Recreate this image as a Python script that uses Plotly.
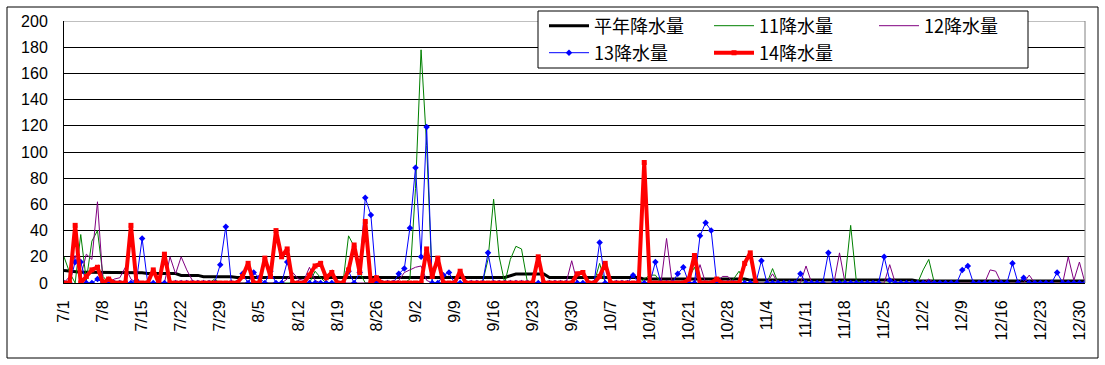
import pandas as pd
import plotly.graph_objects as go

# ---------------- data ----------------
dates = [f"{d.month}/{d.day}" for d in pd.date_range("2014-07-01", "2014-12-31")]

tick_labels = ["7/1", "7/8", "7/15", "7/22", "7/29", "8/5", "8/12", "8/19", "8/26",
               "9/2", "9/9", "9/16", "9/23", "9/30", "10/7", "10/14", "10/21", "10/28",
               "11/4", "11/11", "11/18", "11/25", "12/2", "12/9", "12/16", "12/23", "12/30"]

# 平年降水量 (normal)
normal = [
    9.5, 9.0, 8.6, 8.2, 8.2, 8.2, 8.0, 7.8, 7.8, 7.8, 7.8, 7.8, 7.8, 7.8, 7.8, 7.2,
    7.2, 7.2, 7.2, 7.2, 7.2, 5.8, 5.8, 5.8, 5.8, 4.8, 4.8, 4.8, 4.8, 4.8, 4.8,
    4.2, 4.2, 4.2, 4.2, 4.2, 4.2, 4.2, 4.2, 4.2, 4.2, 4.2, 4.2, 4.2, 4.2, 4.2,
    4.0, 4.0, 4.0, 4.0, 4.0, 4.0, 4.0, 4.0, 4.0, 4.0, 4.0, 4.0, 4.0, 4.0, 4.0, 4.0,
    4.2, 4.2, 4.2, 4.2, 4.2, 4.2, 4.2, 4.2, 4.2, 4.2, 4.2, 4.2, 4.2, 4.2, 4.2, 4.2, 4.2, 4.2,
    5.5, 6.8, 6.8, 6.8, 6.8, 6.8, 6.8, 4.2, 4.2, 4.2, 4.2, 4.2,
    4.2, 4.2, 4.2, 4.2, 4.2, 4.2, 4.2, 4.2, 4.2, 4.2, 4.2, 4.2,
    3.0, 3.0, 3.0, 3.0, 3.0, 3.0, 3.0, 3.0, 3.0, 3.0, 3.0, 3.0, 3.0, 3.0, 3.0, 3.0, 3.0, 3.0, 3.0,
    2.2, 2.2, 2.2, 2.2, 2.2, 2.2, 2.2, 2.2, 2.2, 2.2, 2.2, 2.2, 2.2, 2.2, 2.2,
    2.2, 2.2, 2.2, 2.2, 2.2, 2.2, 2.2, 2.2, 2.2, 2.2, 2.2, 2.2, 2.2, 2.2, 2.2,
    1.6, 1.6, 1.6, 1.6, 1.6, 1.6, 1.6, 1.6, 1.6, 1.6, 1.6, 1.6, 1.6, 1.6, 1.6, 1.6,
    1.6, 1.6, 1.6, 1.6, 1.6, 1.6, 1.6, 1.6, 1.6, 1.6, 1.6, 1.6, 1.6, 1.6, 1.6,
]

# 11降水量
r11 = [
    20, 8, 0, 37, 2, 32, 40, 5, 0, 0, 0, 0, 0, 0, 0, 0, 0, 0, 0, 0,
    0, 0, 0, 0, 0, 0, 0, 3, 0, 0, 0,
    0, 0, 0, 0, 0, 0, 0, 0, 0, 0, 0, 0, 0, 0, 9, 4, 0, 0, 0, 0,
    36, 28, 8, 0, 0, 0, 0, 0, 0, 0, 0,
    3, 72, 178, 105, 0, 0, 0, 0, 0, 0, 0, 0, 0, 0, 18, 64, 20, 0, 18, 28,
    26, 2, 0, 0, 0, 0, 0, 0, 0, 0,
    0, 0, 0, 0, 15, 0, 0, 0, 0, 0, 0, 0, 3, 6, 6, 0, 0, 0, 0, 0,
    4, 12, 0, 0, 0, 0, 0, 0, 3, 9, 0,
    0, 0, 0, 0, 11, 0, 0, 0, 0, 0, 0, 0, 0, 0, 0, 0, 0, 3, 44, 2,
    0, 0, 0, 0, 0, 0, 0, 0, 0, 0,
    0, 10, 18, 0, 0, 0, 0, 0, 0, 0, 0, 0, 0, 0, 0, 0, 0, 0, 0, 0,
    0, 0, 0, 0, 0, 0, 0, 0, 0, 0, 0,
]

# 12降水量
r12 = [
    0, 5, 21, 5, 22, 18, 62, 0, 0, 3, 4, 12, 3, 0, 0, 0, 0, 0, 0, 20,
    7, 20, 10, 2, 0, 0, 0, 0, 0, 0, 0,
    0, 0, 0, 0, 0, 0, 0, 0, 0, 3, 8, 3, 2, 12, 2, 0, 0, 0, 0, 0,
    0, 0, 0, 0, 0, 0, 0, 0, 0, 2, 8,
    10, 12, 13, 2, 0, 0, 0, 0, 0, 0, 0, 0, 0, 0, 0, 0, 0, 0, 0, 0,
    0, 0, 0, 0, 0, 0, 0, 0, 0, 17,
    0, 0, 0, 0, 0, 0, 0, 0, 0, 0, 0, 0, 0, 0, 0, 0, 34, 0, 0, 0,
    0, 0, 14, 0, 0, 0, 5, 5, 0, 0, 0,
    0, 0, 0, 0, 7, 0, 0, 0, 0, 0, 13, 0, 0, 0, 0, 0, 23, 0, 0, 0,
    0, 0, 0, 0, 0, 14, 0, 0, 0, 0,
    0, 0, 3, 0, 0, 0, 0, 0, 0, 0, 0, 0, 0, 10, 9, 0, 0, 0, 0, 0,
    6, 0, 0, 0, 0, 0, 0, 20, 2, 16, 0,
]

# 13降水量
r13 = [
    0, 0, 16, 16, 0, 0, 3, 0, 0, 0, 0, 0, 0, 2, 34, 0, 0, 0, 0, 0,
    0, 0, 0, 0, 0, 0, 0, 0, 14, 43, 0,
    0, 7, 0, 8, 4, 0, 9, 0, 0, 16, 0, 0, 0, 0, 0, 0, 0, 0, 0, 0,
    9, 0, 8, 65, 52, 0, 0, 0, 0, 7, 11,
    42, 88, 20, 119, 0, 0, 6, 8, 0, 0, 0, 0, 0, 0, 23, 0, 0, 0, 0, 0,
    0, 0, 0, 0, 0, 0, 0, 0, 0, 0,
    0, 0, 0, 0, 31, 0, 0, 0, 0, 0, 6, 0, 0, 0, 16, 0, 0, 0, 7, 12,
    0, 0, 36, 46, 40, 0, 0, 0, 0, 0, 0,
    0, 0, 17, 0, 0, 0, 0, 0, 0, 7, 0, 0, 0, 0, 23, 0, 0, 0, 0, 0,
    0, 0, 0, 0, 20, 2, 0, 0, 0, 0,
    0, 0, 0, 0, 0, 0, 0, 0, 10, 13, 0, 0, 0, 0, 0, 0, 0, 15, 0, 4,
    0, 0, 0, 0, 0, 8, 0, 0, 0, 0, 0,
]

# 14降水量 (observed up to 11/2)
r14 = [
    0, 0, 44, 0, 5, 10, 12, 0, 3, 0, 0, 0, 44, 0, 0, 0, 10, 0, 22, 0,
    0, 0, 0, 0, 0, 0, 0, 0, 0, 0, 0,
    0, 5, 15, 0, 0, 19, 5, 40, 20, 26, 0, 0, 0, 6, 13, 15, 4, 8, 0, 0,
    10, 29, 8, 47, 0, 4, 0, 0, 0, 0, 0,
    0, 0, 0, 26, 5, 19, 0, 0, 0, 9, 0, 0, 0, 0, 0, 0, 0, 0, 0, 0,
    0, 0, 0, 20, 0, 0, 0, 0, 0, 0,
    7, 8, 0, 0, 5, 15, 0, 0, 0, 0, 0, 0, 92, 0, 0, 0, 0, 0, 0, 0,
    3, 21, 0, 0, 0, 3, 0, 0, 0, 0, 15,
    23, 0,
]
r14 = r14 + [None] * (len(dates) - len(r14))

# ---------------- geometry helpers ----------------
W, H = 1105, 365
PL, PR, PT, PB = 64, 1085, 21, 283


def px(X):
    return (X - PL) / (PR - PL)


def py(Y):
    return (PB - Y) / (PB - PT)


NUM_FONT = "Liberation Sans, Arial, sans-serif"
JP_FONT = "Noto Sans CJK JP, sans-serif"

fig = go.Figure()
fig.add_trace(go.Scatter(x=dates, y=normal, mode="lines", name="平年降水量",
                         line=dict(color="black", width=3), legend="legend"))
fig.add_trace(go.Scatter(x=dates, y=r11, mode="lines", name="11降水量",
                         line=dict(color="#008000", width=1), legend="legend"))
fig.add_trace(go.Scatter(x=dates, y=r12, mode="lines", name="12降水量",
                         line=dict(color="#800080", width=1), legend="legend"))
fig.add_trace(go.Scatter(x=dates, y=r13, mode="lines+markers", name="13降水量",
                         line=dict(color="#0000FF", width=1),
                         marker=dict(symbol="diamond", size=5, color="#0000FF"),
                         legend="legend2"))
fig.add_trace(go.Scatter(x=dates, y=r14, mode="lines+markers", name="14降水量",
                         line=dict(color="#FF0000", width=4),
                         marker=dict(symbol="square", size=5, color="#FF0000"),
                         legend="legend2"))

legend_common = dict(orientation="h", xanchor="left", yanchor="middle",
                     font=dict(family=JP_FONT, size=18, color="black"),
                     bgcolor="rgba(0,0,0,0)", borderwidth=0,
                     entrywidth=110, entrywidthmode="pixels", itemwidth=40,
                     traceorder="normal")

fig.update_layout(
    width=W, height=H,
    margin=dict(l=PL, r=W - PR, t=PT, b=H - PB, pad=0, autoexpand=False),
    paper_bgcolor="white", plot_bgcolor="white",
    showlegend=True,
    legend=dict(x=px(544), y=py(26), **legend_common),
    legend2=dict(x=px(544), y=py(53), **legend_common),
    xaxis=dict(type="category", range=[0, len(dates) - 1],
               tickmode="array", tickvals=tick_labels, ticktext=tick_labels,
               tickangle=-90, tickfont=dict(family=NUM_FONT, size=16, color="black"),
               showgrid=False, zeroline=False, showline=True, linecolor="black",
               linewidth=1, ticks="", ticklabelstandoff=10),
    yaxis=dict(range=[0, 200], tick0=0, dtick=20,
               tickfont=dict(family=NUM_FONT, size=16, color="black"),
               showgrid=True, gridcolor="black", gridwidth=1,
               zeroline=False, showline=True, linecolor="black", linewidth=1,
               ticks="", ticklabelstandoff=12),
    shapes=[
        # outer chart frame
        dict(type="rect", xref="paper", yref="paper",
             x0=px(7), x1=px(1098), y0=py(358), y1=py(7),
             line=dict(color="black", width=1), fillcolor="rgba(0,0,0,0)", layer="above"),
        # plot-area top & right border (gray)
        dict(type="line", xref="paper", yref="y", x0=0, x1=1, y0=200, y1=200,
             line=dict(color="#808080", width=1), layer="above"),
        dict(type="line", xref="paper", yref="y", x0=1, x1=1, y0=0, y1=200,
             line=dict(color="#808080", width=1), layer="above"),
        # legend box
        dict(type="rect", xref="paper", yref="paper",
             x0=px(538), x1=px(1028), y0=py(68), y1=py(11),
             line=dict(color="black", width=1), fillcolor="white", layer="above"),
    ],
)

fig.write_html("out.html", config={"displayModeBar": False},
               post_script="document.body.style.margin='0px';")
